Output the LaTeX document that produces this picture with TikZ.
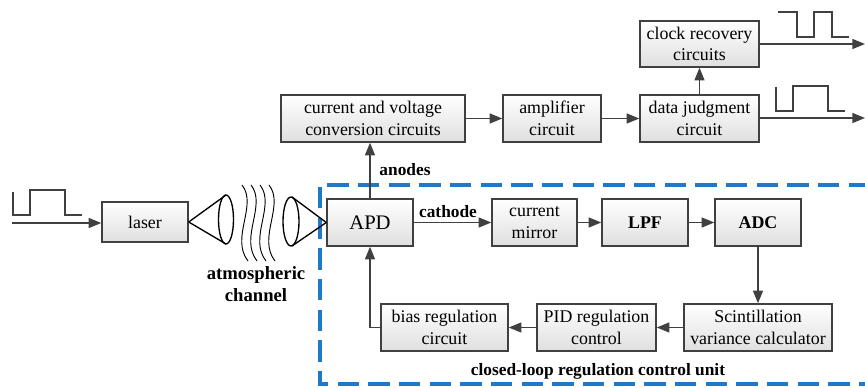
\documentclass[tikz,border=0pt]{standalone}
\usepackage{fontspec}
\setmainfont{Liberation Serif}
\usetikzlibrary{arrows.meta}
\definecolor{ln}{HTML}{404040}
\definecolor{dashblue}{HTML}{1F78C8}
\begin{document}
\begin{tikzpicture}[x=0.75pt,y=-0.75pt,
  blk/.style={draw=ln,line width=1.1pt,top color=white,bottom color=gray!25,
    align=center,inner sep=1pt,font=\fontsize{13.4}{16.2}\selectfont},
  conn/.style={draw=ln,line width=1.1pt,-{Triangle[length=9.5pt,width=7.5pt]}},
  wave/.style={draw=ln,line width=1.1pt},
  lbl/.style={font=\fontsize{13}{16}\selectfont\bfseries,align=center}]
\useasboundingbox (0,0) rectangle (865,388);
% dashed unit
\draw[dashblue,line width=2.3pt,dash pattern=on 16pt off 7pt] (870,185) -- (320,185) -- (320,384) -- (870,384);
% blocks
\node[blk,minimum width=86*0.75pt,minimum height=40*0.75pt] (laser) at (145,222) {laser};
\node[blk,minimum width=184*0.75pt,minimum height=47*0.75pt] (cv) at (373,118.5) {current and voltage\\conversion circuits};
\node[blk,minimum width=98*0.75pt,minimum height=47*0.75pt] (amp) at (552,118.5) {amplifier\\circuit};
\node[blk,minimum width=119*0.75pt,minimum height=47*0.75pt] (dj) at (699.5,118.5) {data judgment\\circuit};
\node[blk,minimum width=119*0.75pt,minimum height=46*0.75pt] (clk) at (699.5,44) {clock recovery\\circuits};
\node[blk,minimum width=86*0.75pt,minimum height=47*0.75pt,font=\fontsize{15.5}{18}\selectfont] (apd) at (370,222.5) {APD};
\node[blk,minimum width=85*0.75pt,minimum height=47*0.75pt] (cm) at (534.5,222.5) {current\\mirror};
\node[blk,minimum width=86*0.75pt,minimum height=47*0.75pt,font=\fontsize{13.4}{16.2}\selectfont\bfseries] (lpf) at (645,222.5) {LPF};
\node[blk,minimum width=86*0.75pt,minimum height=47*0.75pt,font=\fontsize{13.4}{16.2}\selectfont\bfseries] (adc) at (758,222.5) {ADC};
\node[blk,minimum width=127*0.75pt,minimum height=47*0.75pt] (bias) at (444.5,327.5) {bias regulation\\circuit};
\node[blk,minimum width=119*0.75pt,minimum height=47*0.75pt] (pid) at (596.5,327.5) {PID regulation\\control};
\node[blk,minimum width=148*0.75pt,minimum height=47*0.75pt] (sc) at (758,327.5) {Scintillation\\variance calculator};
% labels
\node[lbl] (anodes) at (405,170) {anodes};
\node[lbl] (cathode) at (448,212) {cathode};
\node[lbl,font=\fontsize{14}{17}\selectfont\bfseries] (atm) at (256,284) {atmospheric\\channel};
\node[lbl] (unit) at (598,371) {closed-loop regulation control unit};
% coordinates for free ends
\coordinate (inS) at (12,223);
\coordinate (out1) at (865,44);
\coordinate (out2) at (865,118);
% connectors
\draw[conn] (inS) -- (laser.west |- inS);
\draw[conn] (cv) -- (amp);
\draw[conn] (amp) -- (dj);
\draw[conn] (dj) -- (clk);
\draw[conn] (apd.north) -- (apd.north |- cv.south);
\draw[conn] (apd) -- (cm);
\draw[conn] (cm) -- (lpf);
\draw[conn] (lpf) -- (adc);
\draw[conn] (adc) -- (sc);
\draw[conn] (sc) -- (pid);
\draw[conn] (pid) -- (bias);
\draw[conn] (bias.west) -| (apd.south);
\draw[conn] (clk.east |- out1) -- (out1);
\draw[conn] (dj.east |- out2) -- (out2);
% waves
\draw[wave] (13,192) -- (13,215) -- (30,215) -- (30,190) -- (65,190) -- (65,215) -- (82,215);
\draw[wave] (778,12) -- (797,12) -- (797,37) -- (814,37) -- (814,12) -- (832,12) -- (832,37) -- (849,37);
\draw[wave] (776,87) -- (776,111) -- (793,111) -- (793,86) -- (828,86) -- (828,111) -- (845,111);
% lenses
\draw[black,line width=1pt] (laser.east) -- (226,195);
\draw[black,line width=1pt] (laser.east) -- (226,244);
\draw[black,line width=1pt] (226,219.5) ellipse [x radius=7.5*0.75pt, y radius=24.5*0.75pt];
\draw[black,line width=1pt] (apd.west) -- (292,197);
\draw[black,line width=1pt] (apd.west) -- (292,246);
\draw[black,line width=1pt] (291,221.5) ellipse [x radius=8*0.75pt, y radius=24.5*0.75pt];
% atmospheric waves
\foreach \x in {242,251,260,269}{
  \draw[black,line width=0.7pt] (\x,185) .. controls (\x+16,205) and (\x-12,238) .. (\x+6,261);
}
\end{tikzpicture}
\end{document}
